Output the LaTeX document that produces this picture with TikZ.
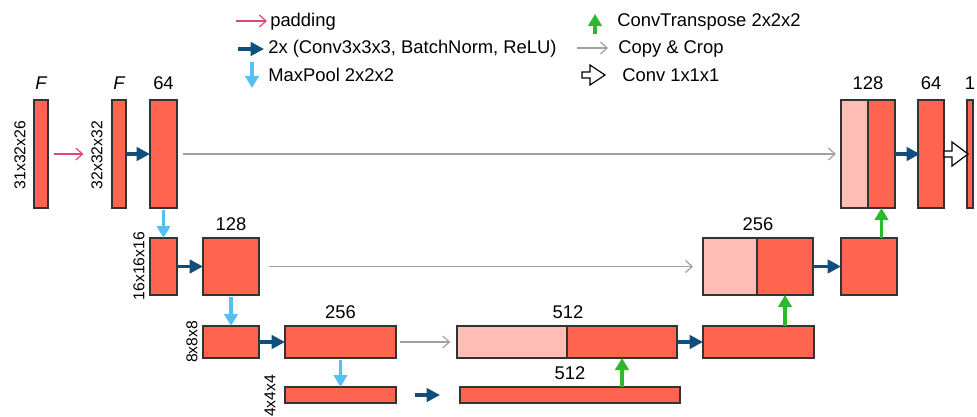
\documentclass[tikz,border=0pt]{standalone}
\usepackage{fontspec}
\setmainfont{Liberation Sans}
\usetikzlibrary{arrows.meta}
\definecolor{boxred}{HTML}{FF6450}
\definecolor{boxlight}{HTML}{FFBDB5}
\definecolor{edge}{HTML}{333333}
\definecolor{dblue}{HTML}{124E7C}
\definecolor{lblue}{HTML}{55C0F5}
\definecolor{upgreen}{HTML}{2EB82E}
\definecolor{padpink}{HTML}{E0467C}
\definecolor{copygray}{HTML}{A0A0A0}
\newcommand\blk[6]{\node[blk,fill=#6,minimum width={(#4-#2)*0.75pt},minimum height={(#5-#3)*0.75pt}] (#1) at ({(#2+#4)/2},{(#3+#5)/2}) {};}
\begin{document}
\begin{tikzpicture}[x=0.75pt,y=-0.75pt,
  blk/.style={draw=edge,line width=1.1pt,inner sep=0pt,outer sep=0pt},
  convarr/.style={draw=dblue,line width=2.4pt,-{Triangle[length=10pt,width=10pt,fill=dblue]}},
  poolarr/.style={draw=lblue,line width=2.4pt,-{Triangle[length=9pt,width=10pt,fill=lblue]}},
  uparr/.style={draw=upgreen,line width=2.4pt,-{Triangle[length=9pt,width=10pt,fill=upgreen]}},
  padarr/.style={draw=padpink,line width=0.9pt,-{Straight Barb[length=5pt,width=9pt]}},
  copyarr/.style={draw=copygray,line width=0.9pt,-{Straight Barb[length=5pt,width=9pt]}},
  hollow/.style={draw=black,line width=0.9pt,fill=white,line join=miter},
  lab/.style={font=\fontsize{13.8}{16}\selectfont,inner sep=0pt},
  dim/.style={font=\fontsize{11.8}{13}\selectfont,inner sep=0pt,rotate=90},
  leg/.style={font=\fontsize{13.8}{16}\selectfont,inner sep=0pt,anchor=base west}]
\useasboundingbox (0,0) rectangle (977,417);
% ---- blocks
\blk{A}{34}{100}{48}{208}{boxred}
\blk{B}{112}{100}{126}{208}{boxred}
\blk{C}{150}{100}{177}{208}{boxred}
\blk{cAl}{841}{100}{868}{208}{boxlight}
\blk{cAr}{868}{100}{895}{208}{boxred}
\blk{oA}{918}{100}{944}{208}{boxred}
\blk{oB}{967}{100}{973}{208}{boxred}
\blk{D}{150}{238}{177}{295}{boxred}
\blk{E}{203}{238}{259}{295}{boxred}
\blk{cBl}{703}{238}{757}{295}{boxlight}
\blk{cBr}{757}{238}{813}{295}{boxred}
\blk{R2}{841}{238}{897}{295}{boxred}
\blk{F}{203}{326}{259}{358}{boxred}
\blk{G}{285}{326}{396}{358}{boxred}
\blk{cCl}{457}{326}{567}{358}{boxlight}
\blk{cCr}{567}{326}{677}{358}{boxred}
\blk{R3}{703}{326}{814}{358}{boxred}
\blk{H}{285}{387}{396}{403}{boxred}
\blk{I}{460}{387}{680}{403}{boxred}
% ---- labels
\node[lab,font=\fontsize{13.8}{16}\selectfont\itshape] (lF1) at (41,83) {F};
\node[lab,font=\fontsize{13.8}{16}\selectfont\itshape] (lF2) at (119,83) {F};
\node[lab] (l64a) at (163.5,83) {64};
\node[lab] (l128a) at (868,83) {128};
\node[lab] (l64b) at (931,83) {64};
\node[lab] (l1) at (970,83) {1};
\node[lab] (l128b) at (231,224) {128};
\node[lab] (l256a) at (758,224) {256};
\node[lab] (l256b) at (340.5,312) {256};
\node[lab] (l512a) at (568,312) {512};
\node[lab] (l512b) at (570,373) {512};
\node[dim] (d1) at (20,155) {31x32x26};
\node[dim] (d2) at (97,155) {32x32x32};
\node[dim] (d3) at (139,266) {16x16x16};
\node[dim] (d4) at (192,342) {8x8x8};
\node[dim] (d5) at (270,396) {4x4x4};
% ---- connectors
\draw[padarr,shorten <=4.5pt,shorten >=21.5pt] (A.east) -- (B.west);
\draw[convarr] (B.east) -- (C.west);
\draw[copyarr,shorten <=4.5pt,shorten >=3.75pt] (C.east) -- (cAl.west);
\draw[poolarr,shorten <=1.5pt] (C.south) -- (D.north);
\draw[convarr] (D.east) -- (E.west);
\draw[copyarr,shorten <=7.5pt,shorten >=7.5pt] (E.east) -- (cBl.west);
\draw[poolarr,shorten <=1.5pt] (E.south) -- (F.north);
\draw[convarr] (F.east) -- (G.west);
\draw[copyarr,shorten <=3pt,shorten >=5pt] (G.east) -- (cCl.west);
\draw[poolarr,shorten <=1.5pt] (G.south) -- (H.north);
\coordinate (bs) at (415,395);
\coordinate (be) at (440,395);
\draw[convarr] (bs) -- (be);
\draw[uparr] (I.north -| cCr.south) -- (cCr.south);
\draw[convarr] (cCr.east) -- (R3.west);
\draw[uparr] (R3.north -| cBr.south) -- (cBr.south);
\draw[convarr] (cBr.east) -- (R2.west);
\draw[uparr] (R2.north -| cAr.south) -- (cAr.south);
\draw[convarr] (cAr.east) -- ([xshift=1.5pt]oA.west);
\draw[hollow] (oA.east) -- ++(0,-3) -- ++(8,0) -- ++(0,-9) -- ++(16,12) -- ++(-16,12) -- ++(0,-9) -- ++(-8,0) -- cycle;
% ---- legend
\coordinate (p1) at (236,21); \coordinate (p2) at (267,21);
\draw[padarr] (p1) -- (p2);
\node[leg] (tp) at (270,27) {padding};
\coordinate (c1) at (238,49); \coordinate (c2) at (264,49);
\draw[convarr] (c1) -- (c2);
\node[leg] (tc) at (268,54) {2x (Conv3x3x3, BatchNorm, ReLU)};
\coordinate (m1) at (252,62); \coordinate (m2) at (252,88);
\draw[poolarr] (m1) -- (m2);
\node[leg] (tm) at (268,82) {MaxPool 2x2x2};
\coordinate (g1) at (595,34); \coordinate (g2) at (595,14);
\draw[uparr] (g1) -- (g2);
\node[leg] (tg) at (617,27) {ConvTranspose 2x2x2};
\coordinate (k1) at (577,48); \coordinate (k2) at (608,48);
\draw[copyarr] (k1) -- (k2);
\node[leg] (tk) at (618,54) {Copy \& Crop};
\coordinate (h1) at (582,75);
\draw[hollow] (h1) -- ++(0,-3) -- ++(8,0) -- ++(0,-7) -- ++(15,10) -- ++(-15,10) -- ++(0,-7) -- ++(-8,0) -- cycle;
\node[leg] (th) at (622,82) {Conv 1x1x1};
\end{tikzpicture}
\end{document}
